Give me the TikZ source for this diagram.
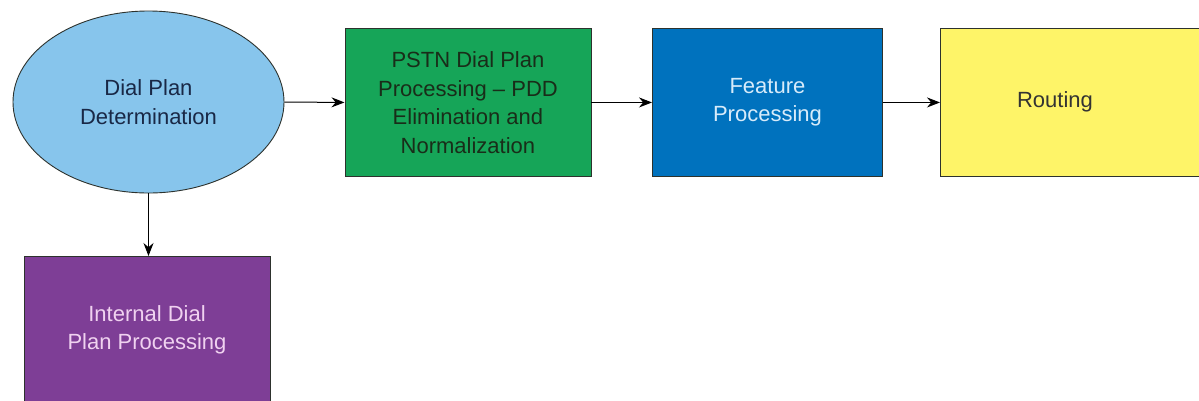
\documentclass[tikz,border=0pt]{standalone}
\usepackage{fontspec}
\setmainfont{Liberation Sans}
\usetikzlibrary{shapes.geometric,arrows.meta}
\definecolor{ellfill}{RGB}{135,197,236}
\definecolor{grnfill}{RGB}{22,165,88}
\definecolor{blufill}{RGB}{0,114,190}
\definecolor{yelfill}{RGB}{254,244,104}
\definecolor{purfill}{RGB}{126,62,150}
\definecolor{bordc}{RGB}{45,50,45}
\definecolor{navytext}{RGB}{25,40,70}
\definecolor{darktext}{RGB}{25,45,25}
\definecolor{lightblue}{RGB}{215,235,250}
\definecolor{lightpink}{RGB}{240,210,240}
\tikzset{
  lbl/.style={font=\fontsize{22}{28.5}\selectfont, align=center, inner sep=0pt},
  boxshape/.style={draw=bordc, line width=0.9pt, rectangle, anchor=north west},
  flow/.style={-{Stealth[length=13pt,width=10pt]}, line width=1pt, black}
}
\begin{document}
\begin{tikzpicture}[x=1pt,y=-1pt]
\useasboundingbox (0,0) rectangle (1199,400);
\clip (0,0) rectangle (1199,400);
\fill[white] (0,0) rectangle (1199,400);
% ellipse
\node[ellipse, draw=bordc, line width=0.9pt, fill=ellfill, minimum width=271pt, minimum height=182pt, inner sep=0pt] (dpd) at (148.5,102) {};
\node[lbl, text=navytext] (dpdtext) at (148.5,102) {Dial Plan\\Determination};
% green
\node[boxshape, fill=grnfill, minimum width=246pt, minimum height=148pt] (pstn) at (344.5,28) {};
\node[lbl, text=darktext] (pstntext) at (pstn.center) {PSTN Dial Plan\\Processing -- PDD\\Elimination and\\Normalization};
% blue
\node[boxshape, fill=blufill, minimum width=230pt, minimum height=148pt] (feat) at (652,28) {};
\node[lbl, text=lightblue] (feattext) at (feat.center) {Feature\\Processing};
% yellow
\node[boxshape, fill=yelfill, minimum width=280pt, minimum height=148pt] (route) at (940,28) {};
\node[lbl, text=black!80] (routetext) at (1055,102) {Routing};
% purple
\node[boxshape, fill=purfill, minimum width=246pt, minimum height=148pt] (intl) at (24,256) {};
\node[lbl, text=lightpink] (intltext) at (147,330) {Internal Dial\\Plan Processing};
% arrows
\draw[flow] (dpd.east) -- (pstn.west);
\draw[flow] (pstn.east) -- (feat.west);
\draw[flow] (feat.east) -- (route.west);
\draw[flow] (dpd.south) -- (dpd.south |- intl.north);
\end{tikzpicture}
\end{document}
